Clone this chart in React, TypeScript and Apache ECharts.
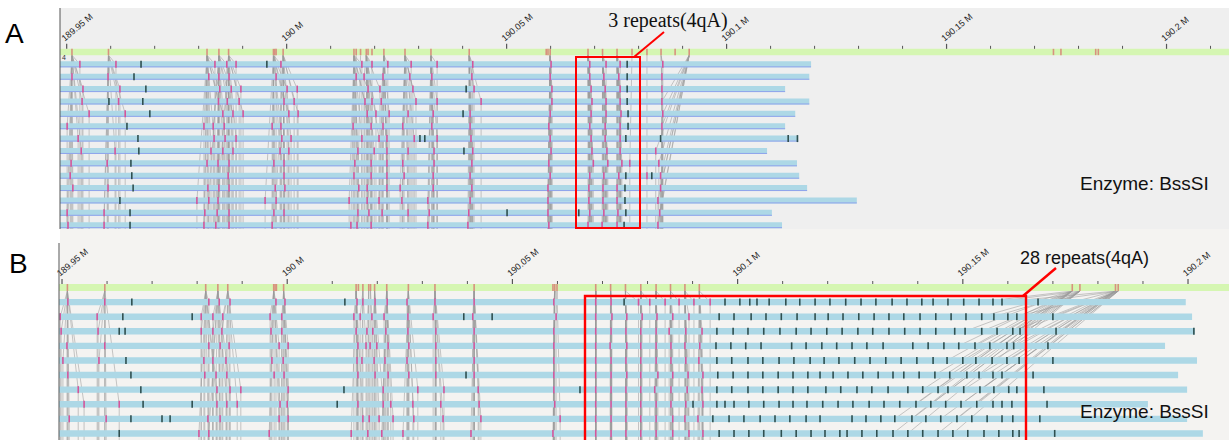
import React, { useEffect, useRef } from "react";
import * as echarts from "echarts";

// All genomic positions are kb from 189.95 Mb (chr4, hg38)
const ORIGIN_KB = 189950;

// Reference (in-silico BssSI) labels
const REF_LABELS = [
  1.2, 9.5, 31.9, 34.6, 36.8, 47.0, 47.3, 47.6, 49.2, 65.3, 65.8, 66.8, 68.1, 68.5, 69.4, 72.1,
  76.9, 82.8, 91.5, 109.0, 109.4, 109.9, 118.5, 121.8, 125.1, 128.5, 131.9, 135.1, 138.3, 141.5,
  224.3, 226.0, 233.9, 234.5,
];

const MAJOR_TICKS = [0, 50, 100, 150, 200, 250];
const MINOR_TICKS = [10, 20, 30, 40, 60, 70, 80, 90, 110, 120, 130, 140, 160, 170, 180, 190, 210, 220, 230, 240, 260];

// molecules begin left of the visible window
const MOLECULE_START = -30;

// ---------- Panel A : 3 repeats ----------
const A_ENDS = [169.2, 168.8, 163.3, 168.8, 165.6, 163.3, 166.3, 159.2, 166.0, 166.5, 168.3, 179.6, 160.3, 162.6];

// [reference label index, molecule label position]
const A_ALIGNED: [number, number][][] = [
  [[0, 3.0], [1, 11.2], [2, 33.7], [3, 36.4], [4, 38.5], [5, 48.7], [9, 67.1], [12, 69.4], [15, 73.0], [16, 78.3], [17, 84.2], [18, 92.3], [21, 110.1], [22, 118.9], [23, 122.6], [24, 125.8], [27, 135.5]],
  [[0, 1.2], [1, 9.4], [2, 32.3], [3, 34.6], [4, 36.9], [6, 47.6], [10, 65.8], [12, 67.6], [15, 71.9], [16, 78.0], [17, 83.0], [18, 92.1], [21, 109.9], [22, 118.9], [23, 122.1], [24, 125.5], [27, 135.3]],
  [[0, 3.7], [1, 12.1], [2, 34.8], [3, 37.4], [4, 39.6], [5, 50.1], [8, 52.4], [9, 68.5], [12, 71.2], [16, 78.7], [18, 92.6], [21, 110.3], [22, 119.2], [23, 122.4], [24, 125.8], [27, 135.3]],
  [[0, 3.5], [1, 11.8], [2, 34.5], [3, 36.5], [4, 39.2], [5, 49.4], [8, 51.7], [9, 67.8], [12, 69.4], [15, 71.5], [16, 79.4], [17, 84.2], [18, 94.2], [21, 110.3], [22, 119.4], [23, 122.6], [24, 125.8], [29, 135.3]],
  [[0, 5.1], [1, 13.3], [2, 35.5], [3, 37.8], [4, 40.1], [5, 50.5], [8, 52.6], [9, 68.3], [12, 70.3], [15, 73.3], [16, 77.6], [17, 83.3], [18, 91.7], [21, 109.9], [22, 119.2], [23, 122.6], [24, 126.0], [29, 135.5]],
  [[0, 0.1], [2, 31.2], [3, 33.3], [4, 35.8], [5, 46.7], [8, 48.7], [9, 65.1], [12, 69.2], [15, 71.9], [16, 76.4], [17, 83.0], [18, 91.7], [21, 109.6], [22, 118.9], [23, 122.4], [24, 125.8], [29, 135.3]],
  [[0, 2.6], [2, 33.5], [3, 36.0], [4, 38.5], [5, 48.9], [8, 51.0], [9, 67.1], [12, 71.0], [15, 72.8], [16, 79.0], [17, 84.2], [18, 91.9], [21, 109.9], [22, 119.2], [23, 122.4], [24, 125.8]],
  [[0, 3.3], [1, 11.0], [2, 32.8], [3, 35.5], [4, 37.8], [5, 48.5], [8, 50.5], [9, 66.2], [12, 69.9], [15, 72.8], [16, 77.6], [17, 83.5], [18, 92.3], [21, 110.1], [22, 119.4], [23, 122.8], [24, 125.8], [29, 133.9]],
  [[0, 1.0], [1, 9.2], [2, 31.9], [3, 34.4], [4, 36.9], [5, 47.1], [8, 49.4], [9, 65.5], [12, 69.2], [15, 72.8], [16, 76.4], [17, 83.5], [18, 92.1], [21, 109.6], [22, 119.7], [23, 123.0], [24, 126.2], [25, 128.0], [29, 134.6]],
  [[0, 0.8], [4, 36.7], [8, 49.4], [9, 65.3], [12, 69.2], [15, 72.8], [16, 76.7], [17, 83.3], [18, 91.7], [21, 109.9], [22, 118.9], [23, 122.1], [24, 125.5], [26, 131.9], [29, 135.0]],
  [[0, 1.4], [1, 9.4], [2, 32.1], [3, 34.6], [4, 36.9], [5, 47.4], [8, 49.6], [9, 66.4], [12, 68.3], [15, 72.8], [16, 75.8], [17, 83.3], [18, 92.1], [21, 109.4], [22, 118.7], [23, 121.9], [24, 125.1], [29, 135.0]],
  [[2, 29.6], [3, 32.3], [4, 34.4], [5, 45.1], [8, 47.6], [9, 64.2], [12, 68.3], [15, 71.0], [16, 76.2], [17, 82.1], [18, 91.7], [21, 109.4], [22, 118.7], [23, 121.9], [24, 125.1], [29, 134.4]],
  [[0, 0.1], [1, 8.5], [2, 31.4], [3, 34.2], [4, 36.9], [5, 47.1], [8, 49.4], [9, 66.2], [12, 68.7], [15, 71.7], [16, 77.6], [17, 82.4], [18, 91.4], [21, 109.4], [22, 118.9], [23, 122.1], [24, 125.3], [29, 134.8]],
  [[0, 0.3], [1, 8.5], [2, 31.2], [3, 33.9], [4, 36.9], [5, 46.7], [9, 64.6], [11, 66.0], [12, 69.2], [17, 82.1], [18, 91.2], [21, 109.6], [22, 118.5], [23, 121.7], [24, 125.1], [29, 134.4]],
];

const A_UNALIGNED: number[][] = [
  [16.9, 45.5, 127.4],
  [15.3, 127.4],
  [18.0, 90.8, 127.4],
  [9.6, 17.3, 127.4],
  [18.9, 90.1, 127.6],
  [13.7, 127.6],
  [16.2, 80.3, 81.4, 127.1, 135.0, 164.0, 166.1],
  [16.4, 90.3],
  [14.6],
  [14.8, 127.1, 133.0],
  [15.1, 126.9],
  [12.1, 126.9],
  [14.4, 100.1, 116.4, 127.1],
  [14.4, 126.7],
];

// ---------- Panel B : 28 repeats ----------
const B_ENDS = [249.5, 250.9, 251.5, 244.9, 252.0, 247.8, 249.8, 241.1, 249.8, 253.3];

const B_ALIGNED: [number, number][][] = [
  [[0, 1.3], [1, 9.5], [2, 32.6], [3, 34.9], [4, 37.3], [5, 47.5], [8, 49.5], [9, 65.5], [11, 66.8], [14, 69.5], [15, 72.2], [16, 76.6], [17, 82.8], [18, 91.5], [20, 109.2], [22, 118.5], [23, 121.9], [24, 128.0], [25, 130.5], [26, 133.9], [27, 137.0], [28, 140.3], [29, 143.9]],
  [[0, -0.4], [1, 7.8], [2, 30.9], [3, 33.5], [4, 35.7], [5, 46.2], [8, 48.8], [9, 64.8], [11, 66.2], [13, 68.8], [15, 71.5], [16, 76.8], [17, 82.4], [18, 91.2], [21, 109.7], [22, 118.5], [23, 122.1], [24, 125.4], [25, 128.8], [26, 132.1], [27, 135.6], [28, 139.2]],
  [[0, -0.2], [1, 8.0], [2, 30.9], [3, 33.5], [4, 35.5], [5, 46.4], [8, 48.8], [9, 65.3], [12, 67.7], [14, 69.0], [15, 71.9], [16, 76.8], [17, 83.0], [18, 91.5], [20, 109.2], [22, 118.5], [23, 121.9], [24, 125.2], [25, 128.5], [26, 131.9], [27, 134.8], [28, 138.5], [29, 142.1]],
  [[0, 1.1], [1, 9.5], [2, 32.6], [3, 35.1], [4, 37.1], [5, 48.2], [8, 50.2], [9, 65.7], [11, 67.5], [13, 68.4], [14, 69.9], [15, 72.4], [16, 77.0], [17, 83.0], [18, 91.5], [20, 109.2], [22, 118.5], [23, 121.7], [24, 125.4], [25, 128.5], [26, 131.9], [27, 135.2], [28, 138.3], [29, 141.6]],
  [[0, 0.2], [1, 8.2], [2, 31.5], [3, 33.5], [4, 36.4], [5, 46.6], [8, 49.1], [9, 65.5], [11, 66.6], [14, 69.3], [15, 71.7], [16, 76.6], [17, 83.0], [18, 91.5], [20, 109.2], [22, 118.5], [23, 121.9], [24, 125.2], [25, 128.5], [26, 131.9], [27, 135.2], [28, 138.5], [29, 141.4]],
  [[0, 1.3], [2, 31.7], [3, 34.2], [4, 36.6], [5, 47.1], [8, 49.3], [9, 65.7], [14, 69.5], [15, 72.4], [16, 77.0], [17, 83.0], [18, 91.5], [20, 109.2], [22, 118.5], [23, 121.9], [24, 125.4], [25, 128.5], [26, 132.3], [27, 135.6], [28, 139.0], [29, 142.3]],
  [[0, 3.6], [2, 34.4], [3, 37.3], [4, 39.7], [8, 50.2], [15, 71.3], [16, 79.0], [17, 84.8], [18, 92.4], [20, 109.2], [22, 118.5], [23, 121.9], [24, 125.2], [25, 128.5], [26, 131.6], [27, 135.2], [28, 138.8], [29, 142.1]],
  [[0, 4.9], [1, 12.7], [2, 34.4], [3, 36.6], [4, 38.9], [5, 48.4], [8, 50.0], [9, 65.7], [14, 71.3], [15, 73.0], [16, 77.9], [17, 84.1], [18, 92.6], [20, 109.4], [22, 118.5], [23, 121.9], [24, 125.2], [25, 128.5], [26, 131.9], [27, 135.2], [28, 138.5], [29, 142.3]],
  [[0, 1.6], [1, 9.8], [2, 32.4], [3, 35.1], [5, 48.2], [8, 50.2], [9, 66.8], [12, 68.2], [14, 70.4], [15, 73.5], [16, 78.1], [17, 84.6], [18, 93.0], [21, 110.6], [22, 118.5], [23, 121.9], [24, 125.2], [25, 128.5], [26, 131.9], [27, 135.6], [28, 138.3], [29, 141.2]],
  [[2, 30.4], [3, 32.6], [5, 46.0], [9, 64.2], [12, 67.9], [15, 71.0], [16, 75.7], [18, 90.8], [20, 109.0], [22, 118.5], [23, 121.9], [24, 125.2], [25, 128.5], [26, 131.9], [27, 135.6], [28, 139.2], [29, 142.3]],
];

const B_UNALIGNED: number[][] = [
  [15.5, 62.8, 124.8, 147.2, 150.5, 152.7, 154.3, 157.0, 160.7, 163.8, 167.2, 170.5, 174.0, 177.4, 180.7, 184.3, 187.6, 190.9, 193.4, 196.7, 200.2, 203.6, 206.7, 208.7, 216.7],
  [13.5, 28.9, 89.2, 95.5, 145.9, 149.2, 153.0, 156.3, 159.7, 163.2, 167.2, 170.1, 173.4, 176.9, 180.3, 183.6, 186.9, 190.5, 194.0, 197.4, 200.7, 204.2, 206.9, 210.0, 212.0, 220.0],
  [12.7, 14.0, 145.4, 149.0, 152.3, 155.8, 159.4, 163.0, 166.3, 169.8, 173.2, 176.7, 180.0, 183.6, 187.1, 190.5, 194.0, 198.2, 200.5, 204.2, 207.6, 211.1, 212.7, 220.7, 251.3],
  [145.2, 148.5, 151.8, 155.2, 162.0, 165.2, 168.7, 172.0, 175.4, 178.7, 182.3, 188.9, 192.3, 195.8, 199.1, 202.7, 206.0, 209.8, 211.3, 218.9],
  [14.2, 145.4, 148.7, 152.3, 155.6, 159.2, 162.5, 166.1, 169.2, 172.5, 176.0, 179.4, 182.9, 186.3, 189.8, 193.4, 196.5, 200.0, 202.9, 206.5, 209.8, 212.5, 220.0],
  [15.3, 89.7, 145.6, 149.0, 152.3, 155.6, 159.0, 162.3, 165.6, 168.3, 171.2, 174.5, 177.8, 181.2, 184.5, 186.9, 190.3, 193.8, 197.1, 200.9, 203.6, 206.7, 208.7, 215.6],
  [17.5, 62.6, 115.0, 145.4, 148.7, 152.3, 155.6, 159.0, 162.3, 165.6, 169.6, 172.9, 176.5, 179.8, 183.4, 187.8, 191.1, 194.5, 196.7, 200.2, 203.8, 206.9, 210.2, 212.0, 218.0],
  [18.0, 28.9, 61.1, 140.1, 145.4, 147.2, 149.2, 152.5, 155.8, 159.2, 162.3, 165.4, 168.9, 172.3, 175.6, 179.2, 182.5, 186.0, 189.6, 192.9, 196.2, 199.6, 203.1, 206.7, 208.7, 210.9, 218.7],
  [15.3, 22.2, 24.0, 144.5, 148.1, 151.4, 155.0, 158.3, 161.6, 165.2, 168.3, 175.4, 178.5, 181.8, 184.9, 188.7, 191.8, 195.1, 198.7, 202.0, 205.4, 208.7, 211.1, 217.1],
  [12.7, 145.9, 149.2, 152.5, 155.8, 159.7, 163.0, 166.3, 169.4, 172.7, 174.3, 177.6, 180.9, 184.5, 187.8, 191.1, 194.5, 197.8, 201.1, 204.7, 208.0, 211.1, 212.5, 220.4],
];

// alignment lines from the distal reference labels into the expanded repeat array
const B_TAIL_LINKS: [number, number][][] = [
  [[30, 203.6], [31, 206.7], [32, 208.7], [33, 216.7]],
  [[30, 204.2], [31, 206.9], [32, 212.0], [33, 220.0]],
  [[30, 200.5], [31, 204.2], [32, 211.1], [33, 212.7]],
  [[30, 199.1], [31, 202.7], [32, 209.8], [33, 211.3]],
  [[30, 196.5], [31, 200.0], [32, 206.5], [33, 209.8]],
  [[30, 193.8], [31, 197.1], [32, 203.6], [33, 206.7]],
  [[30, 191.1], [31, 194.5], [32, 200.2], [33, 203.8]],
  [[30, 189.6], [31, 192.9], [32, 199.6], [33, 203.1]],
  [[30, 184.9], [31, 188.7], [32, 195.1], [33, 198.7]],
  [[30, 184.5], [31, 187.8], [32, 194.5], [33, 197.8]],
];

// visible windows (kb)
const A_VIEW = [-1.52, 264.2];
const B_VIEW = [-0.67, 259.1];

const COLORS = {
  molecule: "#add8e6",
  moleculeEdge: "#8fa3ec",
  reference: "#d5f6b2",
  refLabel: "#d8917f",
  aligned: "#d4559a",
  unaligned: "#2f4f4f",
  link: "#9a9a9a",
  red: "#ff0000",
  tick: "#555555",
};

type PanelStyle = { barPx: number; markPx: number; refPx: number; edge: boolean; majorPx: number; minorPx: number };

function fmtTick(v: number) {
  return `${Number(((ORIGIN_KB + v) / 1000).toFixed(2))} M`;
}

function hiddenX(gridIndex: number, view: number[]) {
  return { type: "value", gridIndex, min: view[0], max: view[1], show: false };
}

function panelSeries(
  xAxisIndex: number,
  yAxisIndex: number,
  view: number[],
  ends: number[],
  aligned: [number, number][][],
  unaligned: number[][],
  extraLinks: [number, number][][] | null,
  st: PanelStyle
) {
  const bars = ends.map((e, i) => [MOLECULE_START, e, i]);
  const lastRow = ends.length + 1; // drops run to the lower edge of the panel
  // link = [x1, row1, x2, row2]; row1 = -1 means the reference bar
  const links: number[][] = [];
  const marks: number[][] = [];
  aligned.forEach((row, i) =>
    row.forEach(([r, kb]) => {
      links.push([REF_LABELS[r], -1, kb, i]);
      links.push([kb, i, kb, lastRow]);
      marks.push([kb, i, 0]);
    })
  );
  unaligned.forEach((row, i) => row.forEach((kb) => marks.push([kb, i, 1])));
  if (extraLinks) extraLinks.forEach((row, i) => row.forEach(([r, kb]) => links.push([REF_LABELS[r], -1, kb, i])));
  const refMarks = REF_LABELS.map((kb) => [kb, -1]);
  const ticks = [...MAJOR_TICKS.map((v) => [v, -1, 1]), ...MINOR_TICKS.map((v) => [v, -1, 0])];
  const common = { type: "custom", xAxisIndex, yAxisIndex, silent: true };

  const linkSeries = {
    ...common,
    z: 1,
    clip: true,
    encode: { x: [0, 2], y: [1, 3] },
    data: links,
    renderItem: (params: any, api: any) => {
      const cs = params.coordSys;
      const r1 = api.value(1);
      const a = api.coord([api.value(0), r1]);
      const b = api.coord([api.value(2), api.value(3)]);
      const y1 = r1 === -1 ? a[1] + st.refPx / 2 : a[1];
      const y2 = Math.min(b[1], cs.y + cs.height);
      return {
        type: "line",
        shape: { x1: a[0], y1, x2: b[0], y2 },
        style: { stroke: COLORS.link, lineWidth: 1, opacity: 0.55 },
      };
    },
  };

  const barSeries = {
    ...common,
    z: 2,
    encode: { x: [0, 1], y: 2 },
    data: bars,
    renderItem: (params: any, api: any) => {
      const cs = params.coordSys;
      const p0 = api.coord([api.value(0), api.value(2)]);
      const p1 = api.coord([api.value(1), api.value(2)]);
      const x0 = Math.max(p0[0], cs.x);
      const x1 = Math.min(p1[0], cs.x + cs.width);
      const h = st.barPx;
      const children: any[] = [
        { type: "rect", shape: { x: x0, y: p0[1] - h / 2, width: x1 - x0, height: h }, style: { fill: COLORS.molecule } },
      ];
      if (st.edge) {
        children.push({
          type: "line",
          shape: { x1: x0, y1: p0[1] + h / 2 - 0.5, x2: x1, y2: p0[1] + h / 2 - 0.5 },
          style: { stroke: COLORS.moleculeEdge, lineWidth: 1 },
        });
      }
      return { type: "group", children };
    },
  };

  const refBarSeries = {
    ...common,
    z: 2,
    encode: { x: [0, 1], y: 2 },
    data: [[view[0], view[1], -1]],
    renderItem: (params: any, api: any) => {
      const p0 = api.coord([api.value(0), api.value(2)]);
      const p1 = api.coord([api.value(1), api.value(2)]);
      return {
        type: "rect",
        shape: { x: p0[0], y: p0[1] - st.refPx / 2, width: p1[0] - p0[0], height: st.refPx },
        style: { fill: COLORS.reference },
      };
    },
  };

  const refMarkSeries = {
    ...common,
    z: 3,
    encode: { x: 0, y: 1 },
    data: refMarks,
    renderItem: (params: any, api: any) => {
      const p = api.coord([api.value(0), api.value(1)]);
      return {
        type: "rect",
        shape: { x: p[0] - 0.8, y: p[1] - st.refPx / 2, width: 1.6, height: st.refPx },
        style: { fill: COLORS.refLabel },
      };
    },
  };

  const markSeries = {
    ...common,
    z: 3,
    encode: { x: 0, y: 1 },
    data: marks,
    renderItem: (params: any, api: any) => {
      const p = api.coord([api.value(0), api.value(1)]);
      const dark = api.value(2) === 1;
      return {
        type: "rect",
        shape: { x: p[0] - 0.8, y: p[1] - st.markPx / 2, width: 1.6, height: st.markPx },
        style: { fill: dark ? COLORS.unaligned : COLORS.aligned },
      };
    },
  };

  // scale ruler: ticks and rotated Mb labels above the reference bar
  const rulerSeries = {
    ...common,
    z: 4,
    encode: { x: 0, y: 1 },
    data: ticks,
    renderItem: (params: any, api: any) => {
      const v = api.value(0);
      const major = api.value(2) === 1;
      const p = api.coord([v, api.value(1)]);
      const top = p[1] - st.refPx / 2;
      const len = major ? st.majorPx : st.minorPx;
      const children: any[] = [
        {
          type: "line",
          shape: { x1: p[0], y1: top, x2: p[0], y2: top - len },
          style: { stroke: COLORS.tick, lineWidth: major ? 1.2 : 1 },
        },
      ];
      if (major) {
        children.push({
          type: "text",
          x: p[0] - 1,
          y: top - len - 1,
          rotation: (40 * Math.PI) / 180,
          style: {
            text: fmtTick(v),
            fontSize: 9,
            fontFamily: "Liberation Sans",
            fill: "#222222",
            align: "left",
            verticalAlign: "bottom",
          },
        });
      }
      return { type: "group", children };
    },
  };

  return [linkSeries, barSeries, refBarSeries, refMarkSeries, markSeries, rulerSeries];
}

function buildOption() {
  const txt = (x: number, y: number, text: string, size: number, family: string, align = "left", fill = "#111") => ({
    type: "text",
    x,
    y,
    z: 100,
    silent: true,
    style: { text, fontSize: size, fontFamily: family, fill, align, verticalAlign: "middle" },
  });
  return {
    animation: false,
    backgroundColor: "#ffffff",
    grid: [
      { left: 60, top: 49, width: 1169, height: 180, show: true, backgroundColor: "#efefef", borderWidth: 0 },
      { left: 59, top: 284, width: 1170, height: 156, show: true, backgroundColor: "#f4f3f1", borderWidth: 0 },
    ],
    xAxis: [hiddenX(0, A_VIEW), hiddenX(1, B_VIEW)],
    yAxis: [
      { type: "value", gridIndex: 0, inverse: true, min: -1.242, max: 13.31, show: false },
      { type: "value", gridIndex: 1, inverse: true, min: -1.24, max: 9.45, show: false },
    ],
    series: [
      ...panelSeries(0, 0, A_VIEW, A_ENDS, A_ALIGNED, A_UNALIGNED, null, { barPx: 6, markPx: 7, refPx: 6.3, edge: true, majorPx: 5, minorPx: 3 }),
      ...panelSeries(1, 1, B_VIEW, B_ENDS, B_ALIGNED, B_UNALIGNED, B_TAIL_LINKS, { barPx: 6.4, markPx: 7, refPx: 7, edge: false, majorPx: 5, minorPx: 3 }),
    ],
    graphic: {
      elements: [
        { type: "rect", z: 0, silent: true, shape: { x: 60, y: 8, width: 1169, height: 41 }, style: { fill: "#efefef" } },
        { type: "rect", z: 0, silent: true, shape: { x: 60, y: 229, width: 1169, height: 55 }, style: { fill: "#f4f3f1" } },
        { type: "line", z: 100, silent: true, shape: { x1: 60, y1: 8, x2: 60, y2: 229 }, style: { stroke: "#555", lineWidth: 1 } },
        { type: "line", z: 100, silent: true, shape: { x1: 59, y1: 243, x2: 59, y2: 440 }, style: { stroke: "#555", lineWidth: 1 } },
        txt(62, 57, "4", 7, "Liberation Sans", "left", "#333"),
        txt(5, 33, "A", 28, "Liberation Sans", "left", "#000"),
        txt(9, 263, "B", 28, "Liberation Sans", "left", "#000"),
        txt(668, 20, "3 repeats(4qA)", 20, "Liberation Serif", "center", "#111"),
        txt(1020, 258, "28 repeats(4qA)", 18, "Liberation Sans", "left", "#111"),
        txt(1080, 183, "Enzyme: BssSI", 19, "Liberation Sans", "left", "#111"),
        txt(1080, 411, "Enzyme: BssSI", 19, "Liberation Sans", "left", "#111"),
        {
          type: "rect", z: 100, silent: true,
          shape: { x: 576, y: 57, width: 64, height: 171 },
          style: { fill: "none", stroke: COLORS.red, lineWidth: 2 },
        },
        { type: "line", z: 100, silent: true, shape: { x1: 634, y1: 57, x2: 664, y2: 32 }, style: { stroke: COLORS.red, lineWidth: 2 } },
        {
          type: "rect", z: 100, silent: true,
          shape: { x: 585, y: 296, width: 441, height: 170 },
          style: { fill: "none", stroke: COLORS.red, lineWidth: 2.4 },
        },
        { type: "line", z: 100, silent: true, shape: { x1: 1023, y1: 296, x2: 1056, y2: 268 }, style: { stroke: COLORS.red, lineWidth: 2.4 } },
      ],
    },
  };
}

export default function App() {
  const ref = useRef<HTMLDivElement>(null);
  useEffect(() => {
    if (!ref.current) return;
    const chart = echarts.init(ref.current, null, { renderer: "svg" });
    chart.setOption(buildOption() as any);
    return () => chart.dispose();
  }, []);
  return (
    <div
      ref={ref}
      style={{ position: "fixed", left: 0, top: 0, width: 1229, height: 440, background: "#ffffff" }}
    />
  );
}
